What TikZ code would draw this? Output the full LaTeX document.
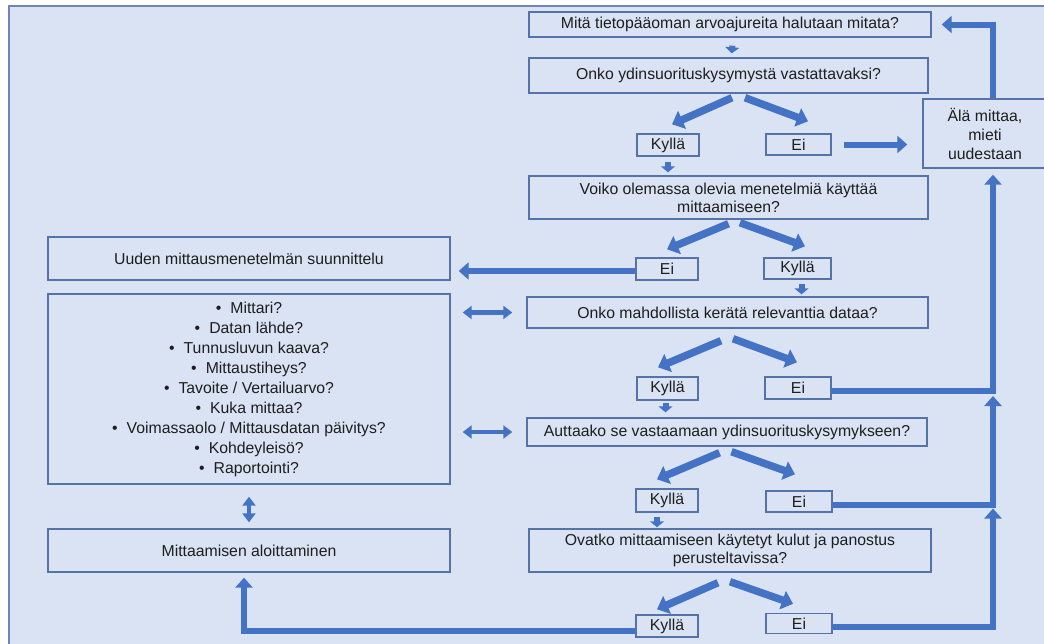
\documentclass[tikz,border=0pt]{standalone}
\usepackage{fontspec}
\setmainfont{Liberation Sans}
\usetikzlibrary{arrows.meta,calc}
\definecolor{bgfill}{HTML}{DAE3F3}
\definecolor{outerc}{HTML}{7084B6}
\definecolor{boxc}{HTML}{5673A9}
\definecolor{arrc}{HTML}{4472C4}
\definecolor{txtc}{HTML}{1E1E1E}
\tikzset{
  box/.style={draw=boxc, line width=1.4pt, inner sep=0pt, align=center, text=txtc,
    font=\fontsize{15.8}{18}\selectfont},
  flow/.style={draw=arrc, line width=6pt, -{Triangle[width=17pt,length=10pt]}},
  splitarr/.style={draw=arrc, line width=7.5pt, -{Triangle[width=19pt,length=11pt]}},
  smallarr/.style={draw=arrc, line width=6pt, -{Triangle[width=14pt,length=6pt]}},
  dblarr/.style={draw=arrc, line width=4.5pt, {Triangle[width=13pt,length=9pt]}-{Triangle[width=13pt,length=9pt]}}
}
\begin{document}
\begin{tikzpicture}[x=1pt,y=-1pt]
\useasboundingbox (0,0) rectangle (1044,643);
\clip (0,0) rectangle (1044,643);
\fill[white] (0,0) rectangle (1044,643);
\draw[outerc, fill=bgfill, line width=1.6pt] (9,6) rectangle (1070,670);

% nodes
\node[box, minimum width=402, minimum height=25] (B1) at (730,24.5) {Mitä tietopääoman arvoajureita halutaan mitata?};
\node[box, minimum width=399, minimum height=35] (B2) at (728.5,75.5) {Onko ydinsuorituskysymystä vastattavaksi?};
\node[box, minimum width=62, minimum height=22] (K1) at (668,145) {Kyllä};
\node[box, minimum width=65, minimum height=21] (E1) at (798.5,144.5) {Ei};
\node[box, minimum width=124, minimum height=69, font=\fontsize{15.8}{19}\selectfont] (Ala) at (985,133.5) {Älä mittaa,\\mieti\\uudestaan};
\node[box, minimum width=399, minimum height=43] (B3) at (728.5,197.5) {Voiko olemassa olevia menetelmiä käyttää\\mittaamiseen?};
\node[box, minimum width=62, minimum height=22] (E2) at (667,269) {Ei};
\node[box, minimum width=67, minimum height=21] (K2) at (797.5,268.5) {Kyllä};
\node[box, minimum width=402, minimum height=43] (U) at (249,258.5) {Uuden mittausmenetelmän suunnittelu};
\node[box, minimum width=402, minimum height=190, font=\fontsize{15.8}{20}\selectfont] (L) at (249,389) {%
\textbullet\hspace{9pt}Mittari?\\
\textbullet\hspace{9pt}Datan lähde?\\
\textbullet\hspace{9pt}Tunnusluvun kaava?\\
\textbullet\hspace{9pt}Mittaustiheys?\\
\textbullet\hspace{9pt}Tavoite / Vertailuarvo?\\
\textbullet\hspace{9pt}Kuka mittaa?\\
\textbullet\hspace{9pt}Voimassaolo / Mittausdatan päivitys?\\
\textbullet\hspace{9pt}Kohdeyleisö?\\
\textbullet\hspace{9pt}Raportointi?};
\node[box, minimum width=401, minimum height=31] (B4) at (727.5,312.5) {Onko mahdollista kerätä relevanttia dataa?};
\node[box, minimum width=61, minimum height=23] (K3) at (667.5,388.5) {Kyllä};
\node[box, minimum width=66, minimum height=22] (E3) at (798,388) {Ei};
\node[box, minimum width=400, minimum height=28] (B5) at (727,432) {Auttaako se vastaamaan ydinsuorituskysymykseen?};
\node[box, minimum width=62, minimum height=23] (K4) at (667,500.5) {Kyllä};
\node[box, minimum width=66, minimum height=21] (E4) at (799,501.5) {Ei};
\node[box, minimum width=402, minimum height=43] (B6) at (730,550.5) {Ovatko mittaamiseen käytetyt kulut ja panostus\\perusteltavissa?};
\node[box, minimum width=402, minimum height=43] (M) at (249,550.5) {Mittaamisen aloittaminen};
\node[box, minimum width=62, minimum height=22] (K5) at (667,626) {Kyllä};
\node[box, minimum width=66, minimum height=20] (E5) at (799,623.5) {Ei};

% small down arrows
\draw[smallarr, shorten <=8pt, shorten >=4pt] ($(B1.south)+(3,0)$) -- ($(B2.north)+(3,0)$);
\draw[smallarr, shorten <=5pt, shorten >=3pt] (K1.south) -- (K1.south |- B3.north);
\draw[smallarr, shorten <=4pt, shorten >=2pt] ($(K2.south)+(4,0)$) -- ($(K2.south |- B4.north)+(4,0)$);
\draw[smallarr, shorten <=2pt, shorten >=5pt] ($(K3.south)+(-2,0)$) -- ($(K3.south |- B5.north)+(-2,0)$);
\draw[smallarr, shorten <=4pt, shorten >=1pt] ($(K4.south)+(-10,0)$) -- ($(K4.south |- B6.north)+(-10,0)$);

% split arrows
\draw[splitarr] ($(B2.south)+(3.5,4)$) -- ($(K1.north)+(4,-9)$);
\draw[splitarr] ($(B2.south)+(16.5,4)$) -- ($(E1.north)+(9.5,-12)$);
\draw[splitarr] ($(B3.south)+(0,4)$) -- ($(E2.north)+(0,-8)$);
\draw[splitarr] ($(B3.south)+(11.5,3)$) -- ($(K2.north)+(7.5,-11)$);
\draw[splitarr] ($(B4.south)+(-6.5,12)$) -- ($(K3.north)+(-9.5,-9)$);
\draw[splitarr] ($(B4.south)+(5.5,10)$) -- ($(E3.north)+(-1,-14)$);
\draw[splitarr] ($(B5.south)+(-7.5,6)$) -- ($(K4.north)+(-10,-9)$);
\draw[splitarr] ($(B5.south)+(4.5,5)$) -- ($(E4.north)+(-4,-16)$);
\draw[splitarr] ($(B6.south)+(-12,10)$) -- ($(K5.north)+(-10,-5)$);
\draw[splitarr] ($(B6.south)+(0,9)$) -- ($(E5.north)+(-6,-9)$);

% flow connectors
\draw[flow, shorten <=12pt, shorten >=15pt] (E1.east) -- (E1.east -| Ala.west);
\draw[flow] ($(Ala.north)+(8,0)$) |- ($(B1.east)+(10,0)$);
\draw[flow] ($(E3.east)+(0,3)$) -| ($(Ala.south)+(8,6)$);
\draw[flow] ($(E4.east)+(0,3.5)$) -| ($(E3.east -| Ala.south)+(8,8)$);
\draw[flow] ($(E5.east)+(0,3.5)$) -| ($(E4.east -| Ala.south)+(8,7)$);
\draw[flow] ($(E2.west)+(0,2)$) -- ($(E2.west -| U.east)+(8,2)$);
\draw[flow] ($(K5.west)+(0,5)$) -| ($(M.south)+(-5,5)$);

% double arrows
\draw[dblarr, shorten <=12pt, shorten >=14pt] (B4.west -| L.east) -- (B4.west);
\draw[dblarr, shorten <=12pt, shorten >=14pt] (B5.west -| L.east) -- (B5.west);
\draw[dblarr, shorten <=12pt, shorten >=6pt] (L.south) -- (M.north);
\end{tikzpicture}
\end{document}
